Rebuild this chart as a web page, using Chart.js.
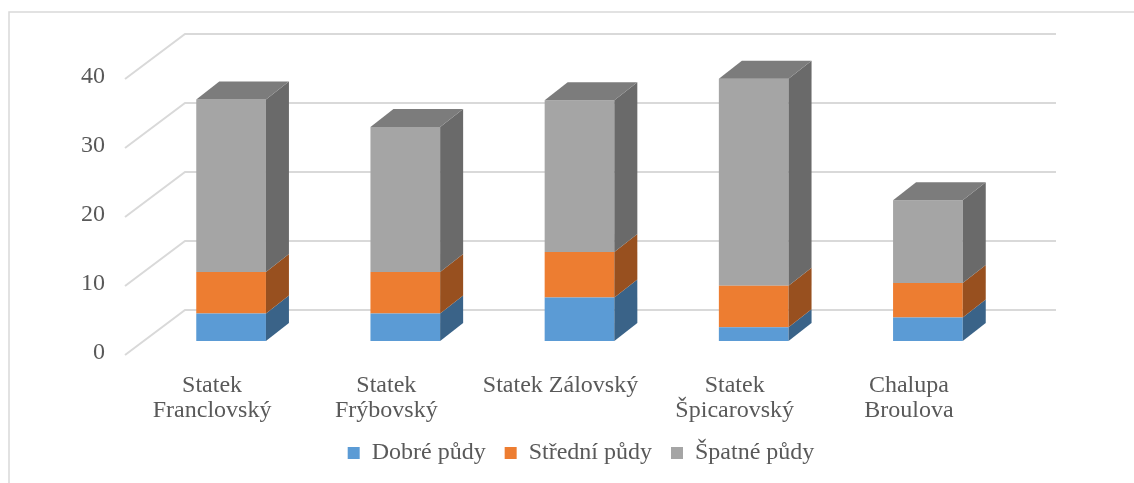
<!DOCTYPE html>
<html>
<head>
<meta charset="utf-8">
<script src="https://cdn.jsdelivr.net/npm/chart.js@4.4.1/dist/chart.umd.min.js"></script>
<style>
    html, body { margin: 0; padding: 0; background: #fff; }
    #wrap { width: 1134px; height: 483px; }
</style>
</head>
<body>
<div id="wrap"><canvas id="chart"></canvas></div>
<script>
// data
const categories = [['Statek', 'Franclovský'], ['Statek', 'Frýbovský'], 'Statek Zálovský', ['Statek', 'Špicarovský'], ['Chalupa', 'Broulova']];
const dobrePudy = [4, 4, 6.3, 2, 3.4];
const stredniPudy = [6, 6, 6.6, 6, 5];
const spatnePudy = [25, 21, 22, 30, 12];
const seriesNames = ['Dobré půdy', 'Střední půdy', 'Špatné půdy'];
const seriesColors = ['#5B9BD5', '#ED7D31', '#A5A5A5'];

// 3D offsets (px)
const barDepth = { dx: 23, dy: 18 };
const backWall = { dx: 41, dy: 31 };
const floorFront = { dx: -19, dy: 14 };

function shade(hex, f) {
    const n = parseInt(hex.slice(1), 16);
    const r = Math.round(((n >> 16) & 255) * f);
    const g = Math.round(((n >> 8) & 255) * f);
    const b = Math.round((n & 255) * f);
    return `rgb(${r},${g},${b})`;
}

const plot3d = {
    id: 'plot3d',
    beforeDraw(chart) {
        const ctx = chart.ctx;
        ctx.save();
        ctx.strokeStyle = '#d9d9d9';
        ctx.lineWidth = 1.5;
        ctx.strokeRect(9, 12, 2000, 2000);
        ctx.restore();
    },
    beforeDatasetsDraw(chart) {
        const { ctx, chartArea: a, scales: { y } } = chart;
        ctx.save();
        ctx.strokeStyle = '#d9d9d9';
        ctx.lineWidth = 2;
        y.ticks.forEach(t => {
            const py = y.getPixelForValue(t.value);
            ctx.beginPath();
            ctx.moveTo(a.left + floorFront.dx, py + floorFront.dy);
            ctx.lineTo(a.left + backWall.dx, py - backWall.dy);
            ctx.lineTo(a.right + backWall.dx, py - backWall.dy);
            ctx.stroke();
        });
        ctx.restore();
    },
    afterDatasetsDraw(chart) {
        const ctx = chart.ctx;
        const last = chart.data.datasets.length - 1;
        ctx.save();
        chart.data.datasets.forEach((ds, di) => {
            const meta = chart.getDatasetMeta(di);
            meta.data.forEach(bar => {
                const { x, y, base, width } = bar.getProps(['x', 'y', 'base', 'width'], true);
                const l = x - width / 2, r = x + width / 2;
                // side face
                ctx.fillStyle = shade(ds.backgroundColor, 0.64);
                ctx.beginPath();
                ctx.moveTo(r, y);
                ctx.lineTo(r + barDepth.dx, y - barDepth.dy);
                ctx.lineTo(r + barDepth.dx, base - barDepth.dy);
                ctx.lineTo(r, base);
                ctx.closePath();
                ctx.fill();
                // top face only on the top segment
                if (di === last) {
                    ctx.fillStyle = shade(ds.backgroundColor, 0.75);
                    ctx.beginPath();
                    ctx.moveTo(l, y);
                    ctx.lineTo(l + barDepth.dx, y - barDepth.dy);
                    ctx.lineTo(r + barDepth.dx, y - barDepth.dy);
                    ctx.lineTo(r, y);
                    ctx.closePath();
                    ctx.fill();
                }
            });
        });
        ctx.restore();
    }
};

const textFont = { family: '"Liberation Serif", "Times New Roman", serif', size: 24, lineHeight: 1.05 };

new Chart(document.getElementById('chart'), {
    type: 'bar',
    data: {
        labels: categories,
        datasets: [dobrePudy, stredniPudy, spatnePudy].map((d, i) => ({
            label: seriesNames[i],
            data: d,
            backgroundColor: seriesColors[i],
            borderWidth: 0,
            categoryPercentage: 1,
            barPercentage: 0.4
        }))
    },
    options: {
        responsive: true,
        maintainAspectRatio: false,
        animation: false,
        layout: { padding: { top: 65, right: 0, bottom: 8, left: 28 } },
        plugins: {
            tooltip: { enabled: false },
            legend: {
                position: 'bottom',
                labels: {
                    boxWidth: 12,
                    boxHeight: 12,
                    padding: 19,
                    color: '#595959',
                    font: textFont
                }
            }
        },
        scales: {
            x: {
                stacked: true,
                grid: { display: false, drawTicks: false },
                border: { display: false },
                ticks: {
                    color: '#595959',
                    font: textFont,
                    maxRotation: 0,
                    autoSkip: false,
                    padding: 32,
                    labelOffset: floorFront.dx
                },
                afterFit(scale) { scale.height = 81; }
            },
            y: {
                stacked: true,
                min: 0,
                max: 40,
                grid: { display: false, drawTicks: false },
                border: { display: false },
                ticks: {
                    stepSize: 10,
                    color: '#595959',
                    font: textFont,
                    padding: 39,
                    labelOffset: 12
                },
                afterFit(scale) { scale.width = 116; }
            },
            // empty right axis, only reserves room for the 3D depth
            yRight: {
                position: 'right',
                grid: { display: false },
                border: { display: false },
                ticks: { display: false },
                afterFit(scale) { scale.width = 119; }
            }
        }
    },
    plugins: [plot3d]
});
</script>
</body>
</html>
